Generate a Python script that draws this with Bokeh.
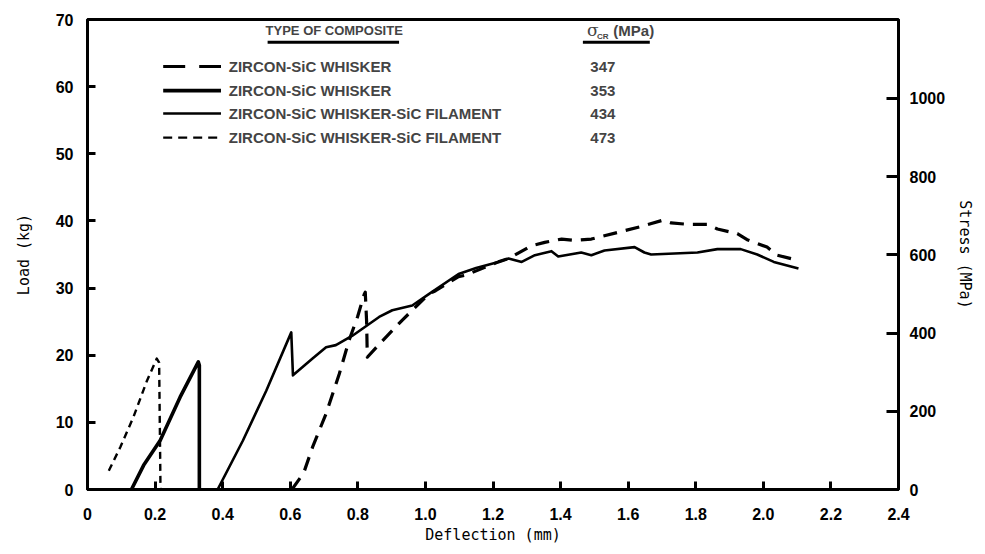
from bokeh.plotting import figure
from bokeh.models import Range1d, LinearAxis, FixedTicker, PrintfTickFormatter, Label
from bokeh.embed import file_html
from bokeh.resources import INLINE

# ---------------- data (deflection mm, load kg) ----------------
x_ticks = [0, 0.2, 0.4, 0.6, 0.8, 1.0, 1.2, 1.4, 1.6, 1.8, 2.0, 2.2, 2.4]
load_ticks = [0, 10, 20, 30, 40, 50, 60, 70]
stress_ticks = [0, 200, 400, 600, 800, 1000]
MPA_PER_KG = 17.17

# ZIRCON-SiC WHISKER, 347 MPa  (thick long dashes)
w347_x = [0.605, 0.64, 0.666, 0.706, 0.745, 0.774, 0.799, 0.819, 0.822, 0.826, 0.828,
          0.87, 0.931, 1.010, 1.030, 1.098, 1.118, 1.216, 1.246, 1.314, 1.353, 1.403,
          1.442, 1.491, 1.570, 1.648, 1.702, 1.727, 1.776, 1.834, 1.864, 1.923, 1.952,
          2.011, 2.041, 2.104]
w347_y = [0.0, 2.5, 6.3, 11.3, 17.2, 22.2, 25.7, 29.1, 29.4, 25.0, 19.7,
          22.0, 25.2, 29.1, 29.6, 31.7, 31.9, 33.9, 34.4, 36.3, 36.8, 37.3,
          37.1, 37.3, 38.3, 39.3, 40.1, 39.7, 39.5, 39.5, 38.8, 38.1, 37.2,
          36.1, 34.9, 34.1]

# ZIRCON-SiC WHISKER, 353 MPa  (thick solid)
w353_x = [0.13, 0.166, 0.215, 0.274, 0.328, 0.331, 0.331]
w353_y = [0.0, 3.6, 7.3, 13.75, 19.0, 18.5, 0.0]

# ZIRCON-SiC WHISKER-SiC FILAMENT, 434 MPa  (thin solid)
f434_x = [0.385, 0.46, 0.529, 0.603, 0.608, 0.666, 0.706, 0.735, 0.784, 0.863, 0.902,
          0.961, 1.010, 1.098, 1.15, 1.216, 1.246, 1.285, 1.324, 1.373, 1.393, 1.461,
          1.491, 1.530, 1.619, 1.648, 1.668, 1.805, 1.864, 1.933, 1.982, 2.031, 2.104]
f434_y = [0.0, 7.3, 14.7, 23.4, 17.0, 19.5, 21.2, 21.5, 22.9, 25.7, 26.7,
          27.4, 29.1, 32.1, 33.0, 33.9, 34.4, 33.9, 34.9, 35.5, 34.7, 35.3,
          34.9, 35.6, 36.1, 35.3, 35.0, 35.3, 35.8, 35.8, 35.0, 33.9, 32.9]

# ZIRCON-SiC WHISKER-SiC FILAMENT, 473 MPa  (thin short dashes)
f473_x = [0.063, 0.097, 0.136, 0.176, 0.205, 0.212, 0.215, 0.216]
f473_y = [2.8, 6.3, 10.8, 16.2, 19.5, 18.9, 5.0, 0.0]

legend_names = ["ZIRCON-SiC WHISKER", "ZIRCON-SiC WHISKER",
                "ZIRCON-SiC WHISKER-SiC FILAMENT", "ZIRCON-SiC WHISKER-SiC FILAMENT"]
legend_values = ["347", "353", "434", "473"]
legend_rows_y = [63.0, 59.4, 56.0, 52.4]
legend_sample_x = [0.224, 0.395]
legend_text_x = 0.418
legend_value_x = 1.525
header_y = 68.4
underline_y = 66.6

styles = [
    dict(line_width=3.2, line_dash="14 9"),
    dict(line_width=3.6, line_dash="solid"),
    dict(line_width=2.6, line_dash="solid"),
    dict(line_width=2.4, line_dash="7 5"),
]
sample_dashes = ["22 14", "solid", "solid", "9 6"]
series = [(w347_x, w347_y), (w353_x, w353_y), (f434_x, f434_y), (f473_x, f473_y)]

# ---------------- figure ----------------
p = figure(width=977, height=546, x_range=Range1d(0, 2.4), y_range=Range1d(0, 70),
           output_backend="svg", toolbar_location=None,
           min_border_left=87, min_border_right=75, min_border_top=19, min_border_bottom=57)
p.extra_y_ranges = {"stress": Range1d(0, 70 * MPA_PER_KG)}
p.xgrid.visible = False
p.ygrid.visible = False
p.outline_line_color = "black"
p.outline_line_width = 3
p.background_fill_color = "white"
p.border_fill_color = "white"

TICK_FONT = "Liberation Sans"
LABEL_FONT = "DejaVu Sans Mono"

def style_axis(ax, tick_in=8):
    ax.axis_line_width = 3
    ax.axis_line_color = "black"
    ax.major_tick_in = tick_in
    ax.major_tick_out = 0
    ax.major_tick_line_width = 3
    ax.minor_tick_line_color = None
    ax.major_label_text_font = TICK_FONT
    ax.major_label_text_font_style = "bold"
    ax.major_label_text_font_size = "16px"
    ax.major_label_text_color = "black"
    ax.axis_label_text_font = LABEL_FONT
    ax.axis_label_text_font_style = "normal"
    ax.axis_label_text_font_size = "15px"
    ax.axis_label_text_color = "black"

xa = p.xaxis[0]
xa.ticker = FixedTicker(ticks=x_ticks)
xa.formatter = PrintfTickFormatter(format="%.1f")
xa.major_label_overrides = {0: "0"}
xa.axis_label = "Deflection (mm)"
style_axis(xa)
xa.major_label_standoff = 18
xa.axis_label_standoff = 3

ya = p.yaxis[0]
ya.ticker = FixedTicker(ticks=load_ticks)
ya.axis_label = "Load (kg)"
style_axis(ya)
ya.major_label_standoff = 14
ya.axis_label_standoff = 20

ra = LinearAxis(y_range_name="stress", ticker=FixedTicker(ticks=stress_ticks),
                axis_label="Stress (MPa)")
style_axis(ra, tick_in=12)
ra.major_label_standoff = 11
ra.axis_label_standoff = 8
p.add_layout(ra, "right")

# ---------------- curves ----------------
for (xs, ys), st in zip(series, styles):
    p.line(xs, ys, line_color="black", line_join="round", line_cap="butt", **st)

# ---------------- legend block ----------------
for ry, st, dash, name, val in zip(legend_rows_y, styles, sample_dashes, legend_names, legend_values):
    p.line(legend_sample_x, [ry, ry], line_color="black",
           line_width=st["line_width"], line_dash=dash)
    p.add_layout(Label(x=legend_text_x, y=ry, text=name, text_font=TICK_FONT,
                       text_font_style="bold", text_font_size="15px",
                       text_baseline="middle", text_align="left"))
    p.add_layout(Label(x=legend_value_x, y=ry, text=val, text_font=TICK_FONT,
                       text_font_style="bold", text_font_size="15px",
                       text_baseline="middle", text_align="center"))

p.add_layout(Label(x=0.73, y=header_y, text="TYPE OF COMPOSITE", text_font=TICK_FONT,
                   text_font_style="bold", text_font_size="13px",
                   text_baseline="middle", text_align="center"))
p.line([0.533, 0.922], [underline_y, underline_y], line_color="black", line_width=3)

p.add_layout(Label(x=1.478, y=header_y, text="σ", text_font="DejaVu Serif",
                   text_font_style="normal", text_font_size="17px",
                   text_baseline="middle", text_align="left"))
p.add_layout(Label(x=1.508, y=header_y - 0.9, text="CR", text_font=TICK_FONT,
                   text_font_style="bold", text_font_size="8px",
                   text_baseline="middle", text_align="left"))
p.add_layout(Label(x=1.556, y=header_y, text="(MPa)", text_font=TICK_FONT,
                   text_font_style="bold", text_font_size="15px",
                   text_baseline="middle", text_align="left"))
p.line([1.466, 1.664], [underline_y, underline_y], line_color="black", line_width=3)

open("out.html", "w").write(file_html(p, INLINE))
